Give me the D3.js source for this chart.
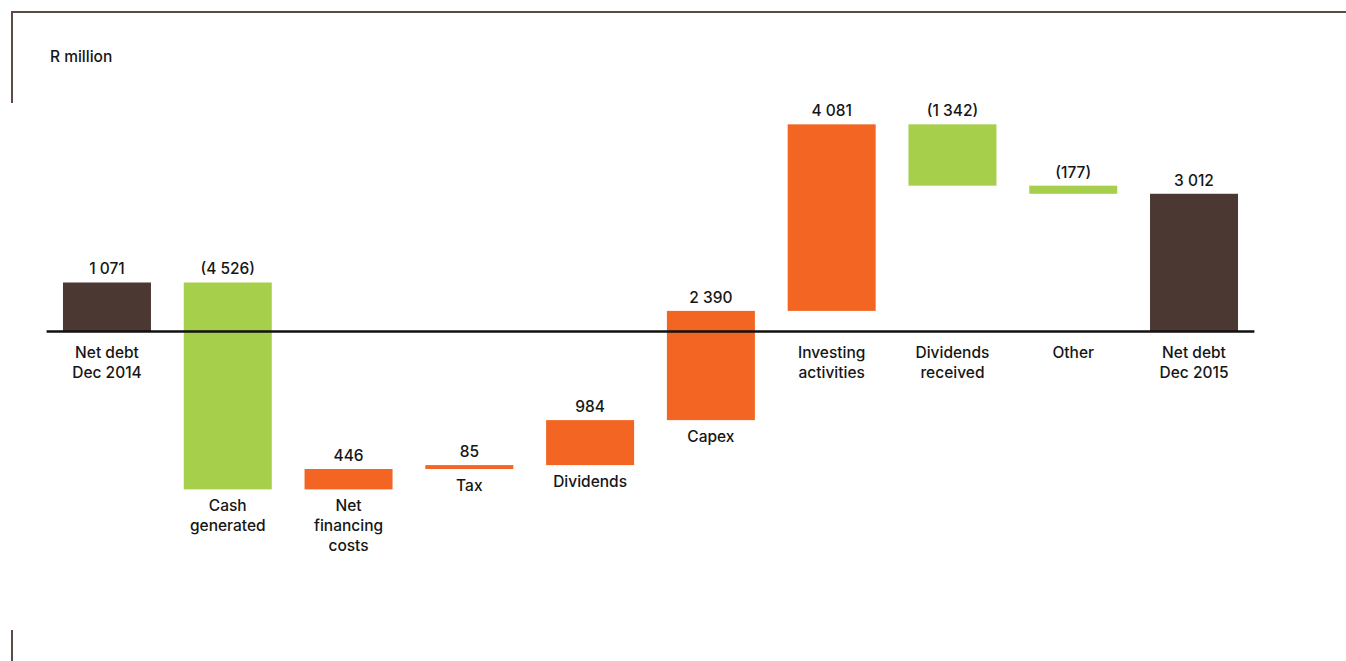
<!DOCTYPE html>
<html>
<head>
<meta charset="utf-8">
<script src="https://cdn.jsdelivr.net/npm/d3@7"></script>
<style>
  body { margin: 0; background: #fff; }
  svg text { font-family: Inter, "Open Sans", sans-serif; fill: #161616; font-weight: 500; }
</style>
</head>
<body>
<div id="chart"></div>
<script>
// waterfall data (R million)
var categories = ["Net debt\nDec 2014", "Cash\ngenerated", "Net\nfinancing\ncosts", "Tax", "Dividends",
                  "Capex", "Investing\nactivities", "Dividends\nreceived", "Other", "Net debt\nDec 2015"];
var values = [1071, -4526, 446, 85, 984, 2390, 4081, -1342, -177, 3012];
var kinds = ["total", "delta", "delta", "delta", "delta", "delta", "delta", "delta", "delta", "total"];

var colours = {total: "#4b3832", up: "#f26522", down: "#a6cf4b"};

var width = 1346, height = 661;
var fontSize = "15.5px";

var svg = d3.select("#chart").append("svg")
    .attr("width", width)
    .attr("height", height);

// frame lines
var frameColour = "#5b4a45";
svg.append("line").attr("x1", 11).attr("x2", width).attr("y1", 12).attr("y2", 12)
    .style("stroke", frameColour).style("stroke-width", 2);
svg.append("line").attr("x1", 12).attr("x2", 12).attr("y1", 11).attr("y2", 103)
    .style("stroke", frameColour).style("stroke-width", 2);
svg.append("line").attr("x1", 12).attr("x2", 12).attr("y1", 630).attr("y2", height)
    .style("stroke", frameColour).style("stroke-width", 2);

svg.append("text").attr("x", 50).attr("y", 62)
    .attr("font-size", fontSize).text("R million");

// build running totals
var running = 0;
var bars = [];
for (let i = 0; i < values.length; i++) {
    let start, end;
    if (kinds[i] == "total") {
        start = 0; end = values[i]; running = values[i];
    } else {
        start = running; end = running + values[i]; running = end;
    }
    bars.push({cat: categories[i], value: values[i], kind: kinds[i], start: start, end: end, idx: i});
}

var x = d3.scaleBand()
    .domain(d3.range(categories.length))
    .range([46.6, 1254.4])
    .paddingInner(0.2715)
    .paddingOuter(0.1357);

var y = d3.scaleLinear()
    .domain([-4000, 5000])
    .range([514.3, 102.9]);

var fmt = d3.formatLocale({decimal: ".", thousands: " ", grouping: [3], currency: ["", ""]}).format(",d");
function label(v) { return v < 0 ? "(" + fmt(-v) + ")" : fmt(v); }

function colourOf(d) {
    if (d.kind == "total") return colours.total;
    return d.value >= 0 ? colours.up : colours.down;
}

svg.selectAll("rect.bar")
    .data(bars)
    .enter()
    .append("rect")
    .attr("class", "bar")
    .attr("x", function (d) { return x(d.idx); })
    .attr("width", x.bandwidth())
    .attr("y", function (d) { return y(Math.max(d.start, d.end)); })
    .attr("height", function (d) { return Math.abs(y(d.start) - y(d.end)); })
    .style("fill", colourOf);

// zero line
svg.append("line")
    .attr("x1", x.range()[0]).attr("x2", x.range()[1])
    .attr("y1", y(0)).attr("y2", y(0))
    .style("stroke", "#111").style("stroke-width", 2.5);

// value labels
svg.selectAll("text.val")
    .data(bars)
    .enter()
    .append("text")
    .attr("class", "val")
    .attr("text-anchor", "middle")
    .attr("font-size", fontSize)
    .attr("x", function (d) { return x(d.idx) + x.bandwidth() / 2; })
    .attr("y", function (d) { return y(Math.max(d.start, d.end)) - 8; })
    .text(function (d) { return label(d.value); });

// category labels: under the bar when it hangs below zero, else under the axis
var cat = svg.selectAll("text.cat")
    .data(bars)
    .enter()
    .append("text")
    .attr("class", "cat")
    .attr("text-anchor", "middle")
    .attr("font-size", fontSize)
    .attr("x", function (d) { return x(d.idx) + x.bandwidth() / 2; })
    .attr("y", function (d) {
        var bottom = y(Math.min(d.start, d.end));
        return bottom > y(0) + 2 ? bottom + 22 : y(0) + 27;
    });

cat.each(function (d) {
    var el = d3.select(this);
    var cx = x(d.idx) + x.bandwidth() / 2;
    d.cat.split("\n").forEach(function (line, j) {
        el.append("tspan").attr("x", cx).attr("dy", j == 0 ? 0 : 20).text(line);
    });
});
</script>
</body>
</html>
